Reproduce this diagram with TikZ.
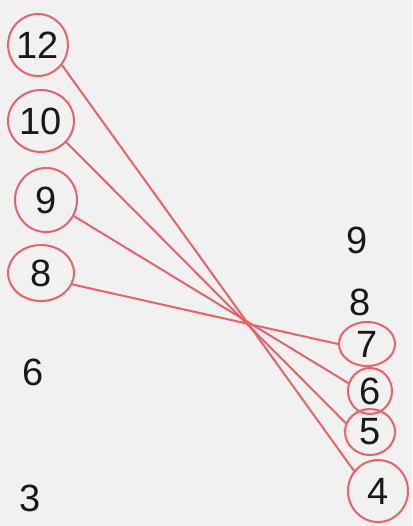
\documentclass[tikz,border=0pt]{standalone}
\usepackage{fontspec}
\setmainfont{Liberation Sans}
\usetikzlibrary{shapes.geometric}
\definecolor{paper}{RGB}{241,241,241}
\definecolor{pen}{RGB}{236,96,106}
\definecolor{ink}{RGB}{25,25,25}
\begin{document}
\begin{tikzpicture}[x=1pt,y=-1pt,
  num/.style={text=ink,font=\fontsize{38}{38}\selectfont,inner sep=0pt},
  ring/.style={num,ellipse,draw=pen,line width=2pt},
  link/.style={draw=pen,line width=2pt}]
\fill[paper] (0,0) rectangle (412,526);
\useasboundingbox (0,0) rectangle (412,526);
% left column
\node[ring,minimum width=50pt,minimum height=62pt] (l12) at (38,45) {12};
\node[ring,minimum width=66pt,minimum height=62pt] (l10) at (41,121) {10};
\node[ring,minimum width=62pt,minimum height=64pt] (l9) at (46,200) {9};
\node[ring,minimum width=66pt,minimum height=56pt] (l8) at (41,273) {8};
\node[num] (l6) at (33,372) {6};
\node[num] (l3) at (30,498) {3};
% right column
\node[num] (r9) at (357,240) {9};
\node[num] (r8) at (360,302) {8};
\node[ring,minimum width=56pt,minimum height=44pt] (r7) at (367,344) {7};
\node[ring,minimum width=44pt,minimum height=46pt] (r6) at (370,391) {6};
\node[ring,minimum width=50pt,minimum height=46pt] (r5) at (370,432) {5};
\node[ring,minimum width=60pt,minimum height=62pt] (r4) at (378,491) {4};
% connectors
\draw[link] (l12.-40) -- (r4.140);
\draw[link] (l10.-40) -- (r5.160);
\draw[link] (l9.-30) -- (r6.160);
\draw[link] (l8.-20) -- (r7.180);
\end{tikzpicture}
\end{document}
